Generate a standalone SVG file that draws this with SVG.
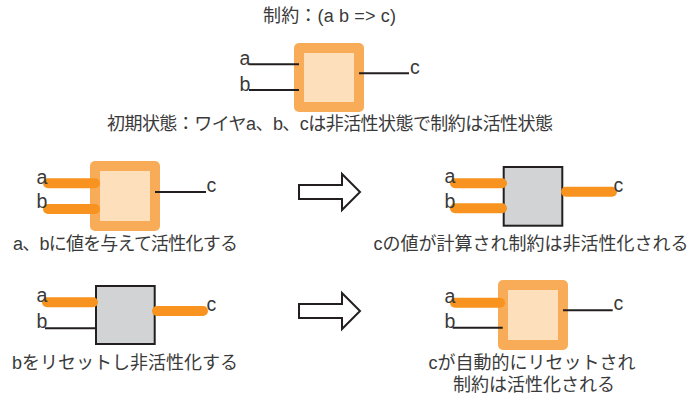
<svg xmlns="http://www.w3.org/2000/svg" width="692" height="398" viewBox="0 0 692 398">
<style>
text{font-family:"Liberation Sans","Noto Sans CJK JP",sans-serif;font-size:18px;fill:#3a3a3a}
.cap{text-anchor:middle}
.lbl{font-size:19.5px}
.outer{fill:#f9ac57}
.inner{fill:#fddfbb}
.grey{fill:#d1d3d4;stroke:#231f20;stroke-width:2}
.wire{stroke:#231f20;stroke-width:2;fill:none}
.live{stroke:#f7931e;stroke-width:10;stroke-linecap:round;fill:none}
.arrow{fill:#ffffff;stroke:#231f20;stroke-width:2;stroke-linejoin:miter}
</style>
<rect width="692" height="398" fill="#ffffff"/>
<g id="title"><text class="cap" x="329.5" y="22" textLength="133" lengthAdjust="spacing">制約：(a b =&gt; c)</text></g>
<g id="box0"><rect class="outer" x="294" y="43" width="70" height="69" rx="5"/><rect class="inner" x="304" y="53" width="50" height="49"/></g>
<g id="box1"><rect class="outer" x="90" y="161" width="70" height="70" rx="5"/><rect class="inner" x="100" y="171" width="50" height="50"/></g>
<g id="box2"><rect class="grey" x="503.7" y="167" width="58.6" height="58.7"/></g>
<g id="box3"><rect class="grey" x="96" y="286" width="58.7" height="58"/></g>
<g id="box4"><rect class="outer" x="498" y="280" width="70" height="70" rx="5"/><rect class="inner" x="508" y="290" width="50" height="50"/></g>
<g id="arrow1"><polygon class="arrow" points="299,185 342,185 342,174 360,192 342,210 342,199 299,199"/></g>
<g id="arrow2"><polygon class="arrow" points="299,304 342,304 342,293 360,311 342,329 342,318 299,318"/></g>
<g id="connectors">
<line class="wire" x1="249" y1="64.3" x2="299" y2="64.3"/>
<line class="wire" x1="249" y1="90" x2="299" y2="90"/>
<line class="wire" x1="359" y1="73.3" x2="409" y2="73.3"/>
<line class="live" x1="48" y1="183.3" x2="95" y2="183.3"/>
<line class="live" x1="48" y1="209" x2="95" y2="209"/>
<line class="wire" x1="155" y1="192" x2="206" y2="192"/>
<line class="live" x1="455" y1="183.3" x2="502" y2="183.3"/>
<line class="live" x1="455" y1="208.3" x2="502" y2="208.3"/>
<line class="live" x1="566" y1="191.7" x2="612" y2="191.7"/>
<line class="live" x1="47" y1="302.3" x2="93" y2="302.3"/>
<line class="wire" x1="45" y1="328.3" x2="96" y2="328.3"/>
<line class="live" x1="157" y1="311" x2="203" y2="311"/>
<line class="live" x1="455" y1="302.7" x2="500" y2="302.7"/>
<line class="wire" x1="452.7" y1="327.7" x2="502.7" y2="327.7"/>
<line class="wire" x1="563" y1="310.3" x2="612.7" y2="310.3"/>
</g>
<g id="labels" class="lbl">
<text class="lbl" x="239.5" y="65">a</text><text class="lbl" x="239.5" y="90.5">b</text><text class="lbl" x="410" y="74">c</text>
<text class="lbl" x="36.5" y="184">a</text><text class="lbl" x="36.5" y="208">b</text><text class="lbl" x="206.5" y="192">c</text>
<text class="lbl" x="444.5" y="183">a</text><text class="lbl" x="444.5" y="208">b</text><text class="lbl" x="613.5" y="191.5">c</text>
<text class="lbl" x="36.5" y="302">a</text><text class="lbl" x="36.5" y="328">b</text><text class="lbl" x="206.5" y="311">c</text>
<text class="lbl" x="444.5" y="302.5">a</text><text class="lbl" x="444.5" y="327.5">b</text><text class="lbl" x="613.5" y="310">c</text>
</g>
<g id="captions">
<text class="cap" x="330" y="130" textLength="446" lengthAdjust="spacing">初期状態：ワイヤa、b、cは非活性状態で制約は活性状態</text>
<text class="cap" x="125.5" y="250" textLength="225" lengthAdjust="spacing">a、bに値を与えて活性化する</text>
<text class="cap" x="531" y="250">cの値が計算され制約は非活性化される</text>
<text class="cap" x="125" y="369">bをリセットし非活性化する</text>
<text class="cap" x="532" y="369">cが自動的にリセットされ</text>
<text class="cap" x="534" y="391">制約は活性化される</text>
</g>
</svg>
